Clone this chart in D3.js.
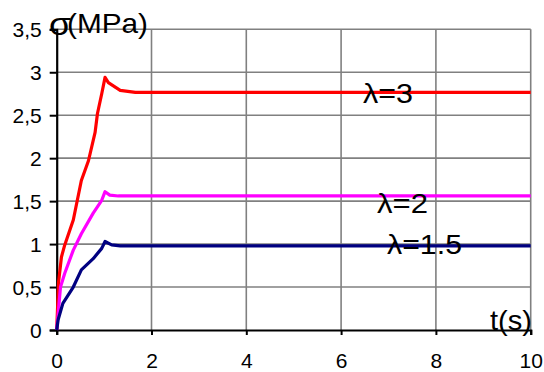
<!DOCTYPE html>
<html><head><meta charset="utf-8">
<script src="https://cdn.jsdelivr.net/npm/d3@7"></script>
<style>html,body{margin:0;padding:0;background:#fff;}svg{display:block;font-family:"Liberation Sans",Arial,sans-serif;}</style>
</head><body><div id="chart"></div>
<script>
const xTicks = [0, 2, 4, 6, 8, 10];
const yTicks = [0, 0.5, 1, 1.5, 2, 2.5, 3, 3.5];
const yTickLabels = ["0", "0,5", "1", "1,5", "2", "2,5", "3", "3,5"];

const tL3 = [0, 0.04, 0.1, 0.17, 0.35, 0.52, 0.67, 0.81, 0.86, 0.95, 1.02, 1.09, 1.34, 1.66, 10];
const sL3 = [0, 0.56, 0.85, 0.99, 1.28, 1.74, 1.97, 2.30, 2.52, 2.75, 2.94, 2.88, 2.79, 2.765, 2.765];
const tL2 = [0, 0.08, 0.17, 0.35, 0.52, 0.77, 0.95, 1.02, 1.12, 1.30, 10];
const sL2 = [0, 0.50, 0.66, 0.93, 1.12, 1.36, 1.51, 1.61, 1.57, 1.56, 1.56];
const tL15 = [0, 0.03, 0.13, 0.35, 0.52, 0.77, 0.95, 1.02, 1.16, 1.34, 10];
const sL15 = [0, 0.12, 0.31, 0.50, 0.70, 0.83, 0.95, 1.03, 0.99, 0.98, 0.98];

const seriesNames = ["λ=3", "λ=2", "λ=1.5"];
const seriesColors = ["#ff0000", "#ff00ff", "#000080"];

const W = 544, H = 372;
const svg = d3.select("#chart").append("svg").attr("width", W).attr("height", H);
const x = d3.scaleLinear().domain([0, 10]).range([56.7, 530.7]);
const y = d3.scaleLinear().domain([0, 3.5]).range([330, 29.3]);

// gridlines
const g = svg.append("g");
g.selectAll(".hg").data(yTicks.filter(d => d > 0)).enter().append("line")
  .attr("x1", x(0)).attr("x2", x(10)).attr("y1", d => y(d)).attr("y2", d => y(d))
  .attr("stroke", "#808080").attr("stroke-width", 1.6);
g.selectAll(".vg").data(xTicks.filter(d => d > 0)).enter().append("line")
  .attr("y1", y(0)).attr("y2", y(3.5)).attr("x1", d => x(d)).attr("x2", d => x(d))
  .attr("stroke", "#808080").attr("stroke-width", 1.6);

// axes
const xAxis = d3.axisBottom(x).tickValues(xTicks).tickSize(5).tickFormat(d => d);
const yAxis = d3.axisLeft(y).tickValues(yTicks).tickSize(7).tickFormat((d, i) => yTickLabels[i]);
const gx = svg.append("g").attr("transform", `translate(0,${y(0)})`).call(xAxis);
const gy = svg.append("g").attr("transform", `translate(${x(0)},0)`).call(yAxis);
[gx, gy].forEach(a => {
  a.select(".domain").attr("stroke", "#000").attr("stroke-width", 2.2);
  a.selectAll(".tick line").attr("stroke", "#000").attr("stroke-width", 2);
  a.selectAll(".tick text").attr("fill", "#000").style("font-size", "21px")
    .style("font-family", '"Liberation Sans",Arial,sans-serif');
});
gx.selectAll(".tick text").attr("y", 0).attr("dy", 38);
gy.selectAll(".tick text").attr("x", -15).attr("dy", "0.36em");

// series lines
const series = [
  { t: tL3, s: sL3 }, { t: tL2, s: sL2 }, { t: tL15, s: sL15 }
];
const line = d3.line().x(d => x(d[0])).y(d => y(d[1]));
series.forEach((sr, i) => {
  svg.append("path").datum(sr.t.map((t, k) => [t, sr.s[k]]))
    .attr("d", line).attr("fill", "none").attr("stroke", seriesColors[i])
    .attr("stroke-width", 3.2).attr("stroke-linejoin", "round");
});

// labels
const labelPos = [
  { x: 363, y: 103, len: 50 },
  { x: 377, y: 213, len: 51 },
  { x: 387, y: 254, len: 75 }
];
seriesNames.forEach((n, i) => {
  svg.append("text").attr("x", labelPos[i].x).attr("y", labelPos[i].y)
    .attr("textLength", labelPos[i].len).attr("lengthAdjust", "spacingAndGlyphs")
    .style("font-size", "28px").attr("fill", "#000").text(n);
});

svg.append("text").attr("x", 49).attr("y", 35).style("font-size", "31px")
  .attr("textLength", 22).attr("lengthAdjust", "spacingAndGlyphs").attr("fill", "#000").text("σ");
svg.append("text").attr("x", 67).attr("y", 33).style("font-size", "28px")
  .attr("textLength", 81).attr("lengthAdjust", "spacingAndGlyphs").attr("fill", "#000").text("(MPa)");
svg.append("text").attr("x", 490).attr("y", 330).style("font-size", "28px")
  .attr("textLength", 42).attr("lengthAdjust", "spacingAndGlyphs").attr("fill", "#000").text("t(s)");
</script></body></html>
